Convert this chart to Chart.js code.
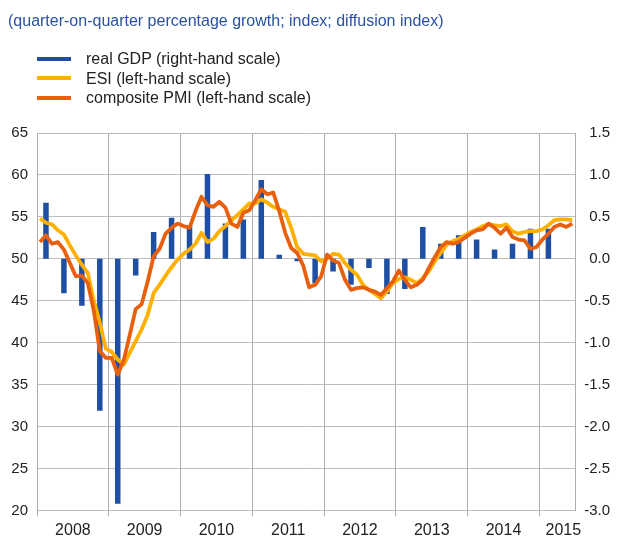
<!DOCTYPE html>
<html>
<head>
<meta charset="utf-8">
<script src="https://cdn.jsdelivr.net/npm/chart.js@4"></script>
<style>
  body { margin: 0; background: #fff; font-family: 'Liberation Sans', Arial, sans-serif; }
  #wrap { position: relative; width: 624px; height: 544px; }
  #chart { position: absolute; left: 0; top: 0; }
  .title { position: absolute; left: 8px; top: 12px; font-size: 16px; color: #2a52a0; white-space: nowrap; }
  .legend { position: absolute; left: 37px; top: 49px; font-size: 16px; color: #222; }
  .legend div { height: 19.7px; line-height: 19.7px; white-space: nowrap; }
  .legend span { display: inline-block; width: 34px; height: 4px; vertical-align: middle; margin-right: 15px; position: relative; top: -1px; }
</style>
</head>
<body>
<div id="wrap">
  <canvas id="chart" width="624" height="544"></canvas>
  <div class="title">(quarter-on-quarter percentage growth; index; diffusion index)</div>
  <div class="legend">
    <div><span style="background:#1e4fa3"></span>real GDP (right-hand scale)</div>
    <div><span style="background:#ffb000"></span>ESI (left-hand scale)</div>
    <div><span style="background:#e8600e"></span>composite PMI (left-hand scale)</div>
  </div>
</div>
<script>
// years on the axis, months run Jan 2008 - Jun 2015
const years = ['2008', '2009', '2010', '2011', '2012', '2013', '2014', '2015'];
const monthCount = 90;

// real GDP, q-o-q % growth, 2008Q1 - 2015Q1 (right-hand scale)
const gdp = [0.67, -0.41, -0.56, -1.81,
             -2.92, -0.20, 0.32, 0.49,
             0.40, 1.01, 0.42, 0.47,
             0.94, 0.05, -0.03, -0.29,
             -0.15, -0.31, -0.11, -0.42,
             -0.36, 0.38, 0.18, 0.28,
             0.23, 0.11, 0.18, 0.36,
             0.36];

// ESI, monthly (left-hand scale)
const esi = [54.8, 54.3, 54.1, 53.4, 52.9, 51.6, 50.4, 49.3, 48.3, 45.0, 42.4, 39.3,
             38.9, 38.0, 37.4, 38.8, 40.2, 41.6, 43.3, 45.9, 46.9, 48.0, 49.0, 49.9,
             50.6, 51.1, 51.8, 53.1, 52.0, 52.4, 53.3, 53.9, 54.6, 55.2, 55.9, 56.6,
             56.6, 57.1, 56.7, 56.2, 55.9, 55.6, 53.7, 51.4, 50.6, 50.5, 50.4, 49.7,
             50.0, 50.6, 50.5, 49.5, 48.7, 48.1, 46.9, 46.3, 45.8, 45.3, 46.1, 47.1,
             47.6, 47.8, 47.5, 47.1, 47.7, 48.5, 49.7, 50.7, 51.7, 52.1, 52.4, 52.8,
             53.2, 53.5, 53.9, 54.1, 54.0, 53.9, 54.1, 53.3, 53.0, 53.2, 53.3, 53.3,
             53.5, 54.0, 54.6, 54.7, 54.7, 54.6];

// composite PMI, monthly (left-hand scale)
const pmi = [52.0, 52.8, 51.8, 52.0, 51.1, 49.5, 47.9, 48.0, 47.1, 43.8, 39.0, 38.2,
             38.2, 36.2, 37.9, 40.9, 44.0, 44.6, 47.3, 50.3, 51.2, 53.0, 53.7, 54.2,
             53.9, 53.7, 55.7, 57.4, 56.4, 56.2, 56.8, 56.1, 54.2, 53.8, 55.5, 55.8,
             57.0, 58.3, 57.7, 57.9, 55.7, 53.1, 51.3, 50.7, 49.2, 46.6, 46.9, 47.9,
             50.5, 49.8, 49.5, 47.5, 46.3, 46.5, 46.6, 46.3, 46.1, 45.7, 46.5, 47.3,
             48.6, 47.5, 46.6, 46.9, 47.5, 48.9, 50.2, 51.4, 52.0, 51.8, 52.0, 52.5,
             53.0, 53.4, 53.5, 54.2, 53.7, 53.0, 53.7, 52.6, 52.3, 52.2, 51.2, 51.4,
             52.3, 53.0, 53.8, 54.1, 53.8, 54.2];

const months = [];
for (let i = 0; i < monthCount; i++) {
    months.push(years[Math.floor(i / 12)] + '-' + String(i % 12 + 1).padStart(2, '0'));
}

// quarterly bars sit on the middle month of each quarter
const gdpMonthly = months.map(() => null);
gdp.forEach((v, q) => { gdpMonthly[q * 3 + 1] = v; });

const font = { family: "'Liberation Sans', Arial, sans-serif", size: 15 };
const gridGrey = '#adadad';

new Chart(document.getElementById('chart'), {
    data: {
        labels: months,
        datasets: [
            {
                type: 'line', label: 'composite PMI', data: pmi, yAxisID: 'y', order: 1,
                borderColor: '#e8600e', borderWidth: 3.8, pointRadius: 0, tension: 0,
                borderJoinStyle: 'round'
            },
            {
                type: 'line', label: 'ESI', data: esi, yAxisID: 'y', order: 2,
                borderColor: '#ffb000', borderWidth: 3.8, pointRadius: 0, tension: 0,
                borderJoinStyle: 'round'
            },
            {
                type: 'bar', label: 'real GDP', data: gdpMonthly, yAxisID: 'y1', order: 3,
                backgroundColor: '#1e4fa3', barPercentage: 0.92, categoryPercentage: 1,
                skipNull: true
            }
        ]
    },
    options: {
        responsive: false,
        animation: false,
        layout: { padding: { top: 133, right: 14, bottom: 0, left: 0 } },
        plugins: { legend: { display: false }, tooltip: { enabled: false } },
        scales: {
            x: {
                offset: true,
                afterFit: (scale) => { scale.height = 33.5; },
                border: { display: false },
                grid: {
                    offset: true,
                    tickLength: 6,
                    color: (ctx) => ctx.index % 12 === 0 && ctx.index < monthCount ? gridGrey : 'rgba(0,0,0,0)'
                },
                ticks: {
                    autoSkip: false, maxRotation: 0, minRotation: 0, padding: 4,
                    labelOffset: -3, color: '#222',
                    font: { family: font.family, size: 16 },
                    callback: (v, i) => {
                        if (i % 12 === 6) return years[Math.floor(i / 12)];
                        if (i === 88) return years[7];
                        return '';
                    }
                }
            },
            y: {
                position: 'left', min: 20, max: 65,
                afterFit: (scale) => { scale.width = 37; },
                border: { display: true, color: gridGrey },
                grid: { color: '#bdbdbd', drawTicks: false },
                ticks: { stepSize: 5, padding: 9, color: '#222', font }
            },
            y1: {
                position: 'right', min: -3, max: 1.5,
                afterFit: (scale) => { scale.width = 34.7; },
                border: { display: true, color: gridGrey },
                grid: { display: false, drawTicks: false },
                ticks: {
                    stepSize: 0.5, crossAlign: 'far', color: '#222', font,
                    callback: (v) => v.toFixed(1)
                }
            }
        }
    }
});
</script>
</body>
</html>
